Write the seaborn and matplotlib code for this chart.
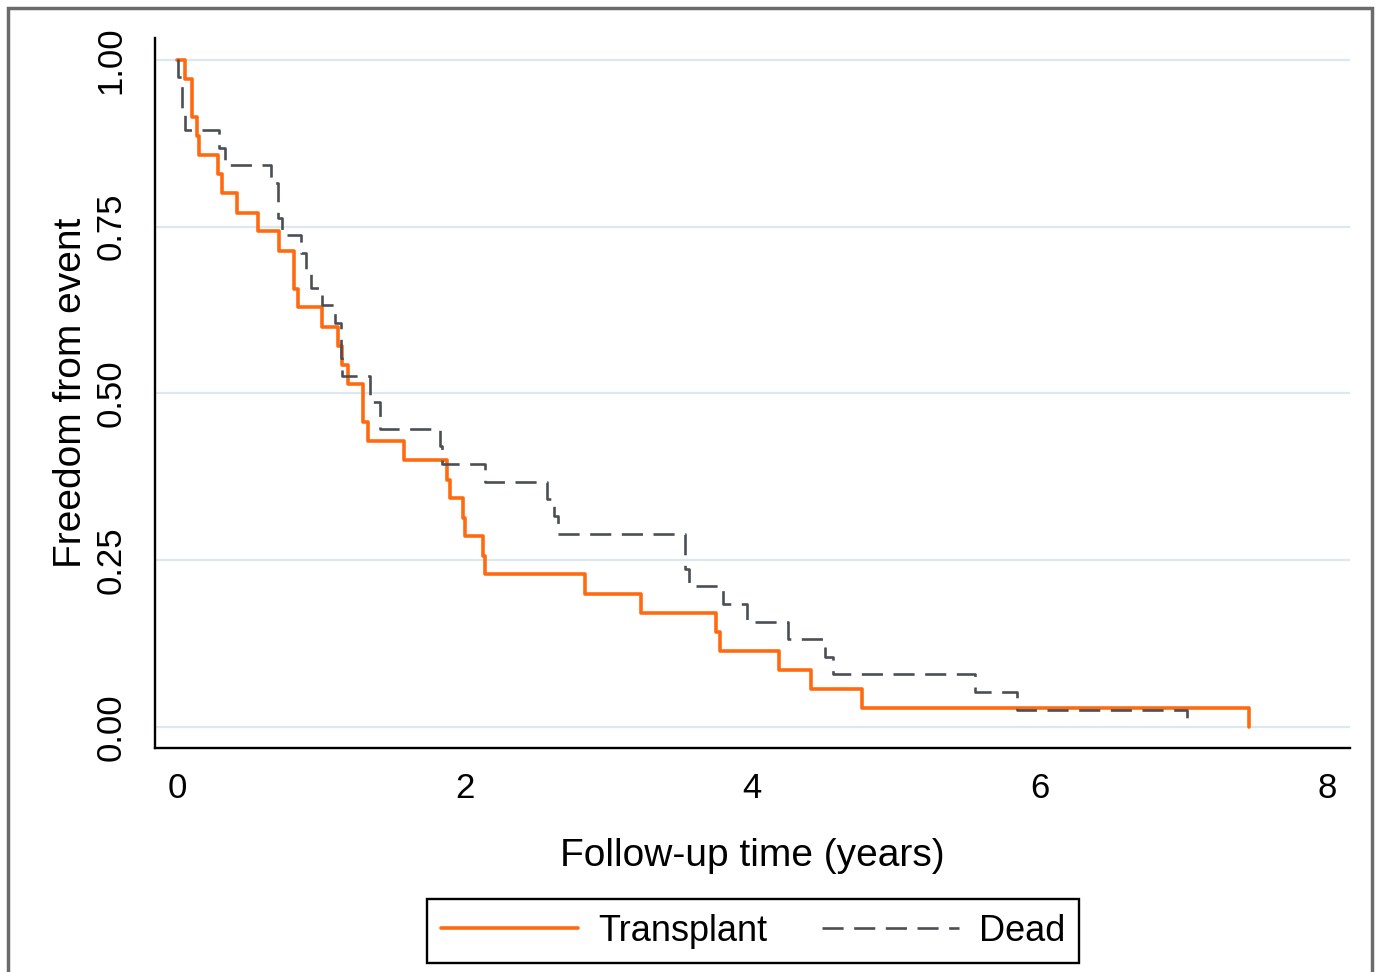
import numpy as np
import pandas as pd
import matplotlib
matplotlib.use('Agg')
import matplotlib.pyplot as plt
import seaborn as sns
from matplotlib.patches import Rectangle

# Kaplan-Meier style step data
transplant_time = [0, 0.056, 0.104, 0.139, 0.153, 0.285, 0.313, 0.417, 0.563, 0.71,
                   0.814, 0.842, 1.009, 1.12, 1.148, 1.19, 1.294, 1.329, 1.579, 1.878,
                   1.899, 1.99, 2.003, 2.129, 2.14, 2.838, 3.228, 3.75, 3.777, 4.188,
                   4.41, 4.765, 7.457]
transplant_surv = [1.0, 0.971, 0.914, 0.886, 0.857, 0.829, 0.800, 0.771, 0.743, 0.714,
                   0.657, 0.629, 0.600, 0.571, 0.543, 0.514, 0.457, 0.429, 0.400, 0.371,
                   0.343, 0.314, 0.286, 0.257, 0.229, 0.200, 0.171, 0.143, 0.114, 0.086,
                   0.057, 0.029, 0.0]

dead_time = [0, 0.005, 0.035, 0.056, 0.292, 0.334, 0.654, 0.70, 0.73, 0.86,
             0.90, 0.93, 1.009, 1.10, 1.14, 1.148, 1.343, 1.412, 1.83, 1.843,
             2.143, 2.574, 2.62, 2.65, 3.535, 3.56, 3.80, 3.965, 4.25, 4.508,
             4.563, 5.551, 5.843, 7.026]
dead_surv = [1.0, 0.974, 0.921, 0.895, 0.868, 0.842, 0.816, 0.763, 0.737, 0.711,
             0.684, 0.658, 0.632, 0.605, 0.553, 0.526, 0.487, 0.447, 0.421, 0.395,
             0.368, 0.342, 0.316, 0.289, 0.237, 0.211, 0.184, 0.158, 0.132, 0.105,
             0.079, 0.053, 0.026, 0.0]

group_labels = ['Transplant', 'Dead']
y_ticks = [0, 0.25, 0.5, 0.75, 1.0]
x_ticks = [0, 2, 4, 6, 8]

sns.set_style('white')
plt.rcParams['font.family'] = ['Liberation Sans', 'DejaVu Sans']
plt.rcParams['text.color'] = 'black'
plt.rcParams['axes.labelcolor'] = 'black'

fig = plt.figure(figsize=(13.77, 9.72), dpi=100)
ax = fig.add_axes([0.1126, 0.2305, 0.8678, 0.7304])

df_t = pd.DataFrame({'time': transplant_time, 'surv': transplant_surv})
df_d = pd.DataFrame({'time': dead_time, 'surv': dead_surv})

sns.lineplot(data=df_t, x='time', y='surv', ax=ax, drawstyle='steps-post',
             color='#ff6a10', lw=2.6, estimator=None, legend=False)
sns.lineplot(data=df_d, x='time', y='surv', ax=ax, drawstyle='steps-post',
             color='#4b4f55', lw=1.9, linestyle=(0, (8, 4)),
             estimator=None, legend=False)

ax.set_xlim(-0.153, 8.16)
ax.set_ylim(-0.0315, 1.033)
ax.set_xticks(x_ticks)
ax.set_yticks(y_ticks)
ax.set_yticklabels(['%.2f' % v for v in y_ticks])

ax.set_axisbelow(True)
ax.yaxis.grid(True, color='#dce8ee', lw=1.6)
ax.xaxis.grid(False)

for side in ['top', 'right']:
    ax.spines[side].set_visible(False)
for side in ['left', 'bottom']:
    ax.spines[side].set_linewidth(1.7)
    ax.spines[side].set_color('black')

ax.tick_params(axis='both', length=7, width=1.6, color='black',
               labelsize=25, direction='out', labelcolor='black')
ax.tick_params(axis='y', labelrotation=90, pad=13)
ax.tick_params(axis='x', pad=10)
for lab in ax.get_yticklabels():
    lab.set_va('center')

ax.set_xlabel('Follow-up time (years)', fontsize=28, labelpad=24)
ax.set_ylabel('Freedom from event', fontsize=28, labelpad=4)

fig.legend(handles=ax.lines[:2], labels=group_labels, loc='center',
           bbox_to_anchor=(753 / 1377, 1 - 931 / 972), ncol=2, fontsize=26,
           frameon=True, fancybox=False, framealpha=1, edgecolor='black',
           handlelength=3.8, handletextpad=0.55, columnspacing=1.5,
           borderpad=0.4)
fig.legends[0].get_frame().set_linewidth(1.7)

fig.patches.append(Rectangle((8 / 1377, -0.05), 1364 / 1377, 1.05 - 8 / 972,
                             transform=fig.transFigure, fill=False,
                             edgecolor='#6b6b6b', lw=2.5))

fig.savefig('out.png', dpi=100)
